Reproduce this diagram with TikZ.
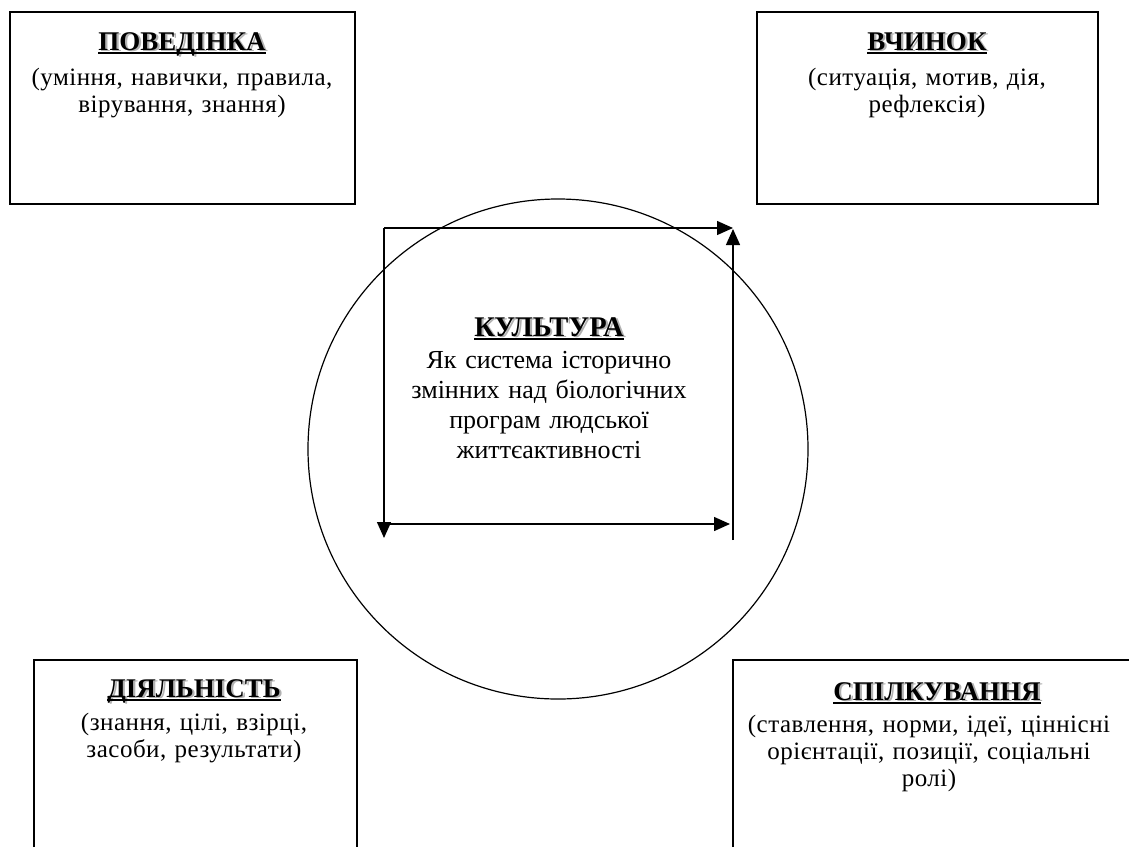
\documentclass[tikz,border=0pt]{standalone}
\usepackage{fontspec}
\setmainfont{Liberation Serif}
\usetikzlibrary{arrows.meta}
\newsavebox{\ttlbox}
\newcommand{\shtitle}[1]{\sbox{\ttlbox}{#1}\rlap{\kern2.2pt\raisebox{-1.2pt}{\textcolor{black!30}{#1}}}\rlap{\raisebox{-4pt}{\rule{\wd\ttlbox}{2.2pt}}}\usebox{\ttlbox}}
\tikzset{
  frame/.style={line width=1.3pt},
  ttl/.style={font=\fontsize{27}{30}\selectfont\bfseries, anchor=base, inner sep=0},
  bigttl/.style={font=\fontsize{28.5}{30}\selectfont\bfseries, anchor=base, inner sep=0},
  boxbody/.style={font=\fontsize{25}{27}\selectfont\addfontfeature{LetterSpace=2}, anchor=base, inner sep=0, align=center, text width=#1},
  midbody/.style={font=\fontsize{26}{30}\selectfont, anchor=base, inner sep=0, align=center, text width=#1},
  cyc/.style={line width=1.4pt, -{Triangle[length=16pt,width=14pt]}},
}
\begin{document}
\begin{tikzpicture}[x=1pt,y=-1pt]
\useasboundingbox (0,0) rectangle (1129,847);
% boxes
\draw[frame] (10,12) rectangle (355,204);
\draw[frame] (757,12) rectangle (1098,204);
\draw[frame] (34,847) -- (34,660) -- (357,660) -- (357,847);
\draw[frame] (733,847) -- (733,660) -- (1129,660);
% circle
\node (circ) [draw, circle, line width=1.2pt, minimum size=500pt, inner sep=0] at (558,449) {};
% texts
\node (t1) [ttl] at (182,50) {\shtitle{ПОВЕДІНКА}};
\node (b1) [boxbody=345pt] at (182,85) {(уміння, навички, правила,\\вірування, знання)};
\node (t2) [ttl] at (927,50) {\shtitle{ВЧИНОК}};
\node (b2) [boxbody=335pt] at (927,85) {(ситуація, мотив, дія,\\рефлексія)};
\node (t3) [ttl] at (194,697) {\shtitle{ДІЯЛЬНІСТЬ}};
\node (b3) [boxbody=320pt] at (194,730) {(знання, цілі, взірці,\\засоби, результати)};
\node (t4) [ttl] at (937,700) {\shtitle{СПІЛКУВАННЯ}};
\node (b4) [boxbody=400pt] at (929,732) {(ставлення, норми, ідеї, ціннісні\\орієнтації, позиції, соціальні\\ролі)};
\node (t5) [bigttl] at (549,336) {\shtitle{КУЛЬТУРА}};
\node (b5) [midbody=340pt] at (549,368) {Як система історично\\змінних над біологічних\\програм людської\\життєактивності};
% arrows
\coordinate (p1) at (384,228);
\coordinate (p2) at (733,228);
\coordinate (p3) at (384,538);
\coordinate (q1) at (384,524);
\coordinate (q2) at (730,524);
\coordinate (r1) at (733,540);
\coordinate (r2) at (733,229);
\draw[cyc] (p1) -- (p2);
\draw[cyc] (p1) -- (p3);
\draw[cyc] (q1) -- (q2);
\draw[cyc] (r1) -- (r2);
\end{tikzpicture}
\end{document}
